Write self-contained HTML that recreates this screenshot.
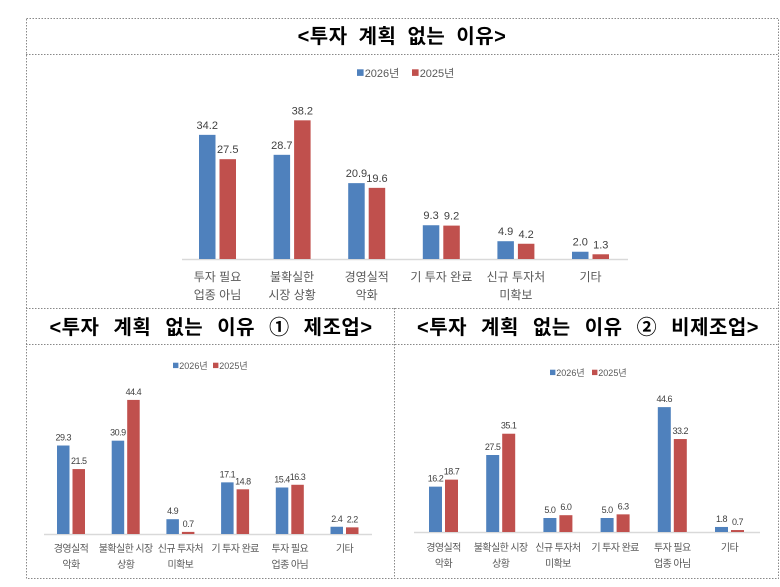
<!DOCTYPE html>
<html><head><meta charset="utf-8">
<style>
body{margin:0;background:#fff;width:780px;height:587px;overflow:hidden;font-family:"Liberation Sans","Noto Sans CJK KR",sans-serif}
svg{display:block}
</style></head>
<body>
<svg id="c" width="780" height="587" xmlns="http://www.w3.org/2000/svg">
<g stroke="#888" stroke-width="1" stroke-dasharray="1.5,1.5" fill="none">
<rect x="26.5" y="18.5" width="752" height="560"/>
<line x1="26" y1="54.5" x2="779" y2="54.5"/>
<line x1="26" y1="308.5" x2="779" y2="308.5"/>
<line x1="26" y1="344.5" x2="779" y2="344.5"/>
<line x1="394.5" y1="308" x2="394.5" y2="578"/>
</g>
<text x="402" y="43" text-anchor="middle" font-size="20" font-weight="bold" word-spacing="5" letter-spacing="0.5" fill="#000">&lt;투자 계획 없는 이유&gt;</text>
<text x="211" y="334" text-anchor="middle" font-size="20" font-weight="bold" word-spacing="8" letter-spacing="0.5" fill="#000">&lt;투자 계획 없는 이유 ① 제조업&gt;</text>
<text x="588" y="334" text-anchor="middle" font-size="20" font-weight="bold" word-spacing="8" letter-spacing="0.5" fill="#000">&lt;투자 계획 없는 이유 ② 비제조업&gt;</text>
</svg>
<script>
const seriesNames=["2026년","2025년"];
const topCats=[["투자 필요","업종 아님"],["불확실한","시장 상황"],["경영실적","악화"],["기 투자 완료"],["신규 투자처","미확보"],["기타"]];
const top2026=[34.2,28.7,20.9,9.3,4.9,2.0];
const top2025=[27.5,38.2,19.6,9.2,4.2,1.3];
const mfgCats=[["경영실적","악화"],["불확실한 시장","상황"],["신규 투자처","미확보"],["기 투자 완료"],["투자 필요","업종 아님"],["기타"]];
const mfg2026=[29.3,30.9,4.9,17.1,15.4,2.4];
const mfg2025=[21.5,44.4,0.7,14.8,16.3,2.2];
const nonCats=[["경영실적","악화"],["불확실한 시장","상황"],["신규 투자처","미확보"],["기 투자 완료"],["투자 필요","업종 아님"],["기타"]];
const non2026=[16.2,27.5,5.0,5.0,44.6,1.8];
const non2025=[18.7,35.1,6.0,6.3,33.2,0.7];

const NS="http://www.w3.org/2000/svg";
const svg=document.getElementById('c');
const colors=["#4f81bd","#c0504d"];
function mk(tag,attrs,parent){const e=document.createElementNS(NS,tag);for(const k in attrs)e.setAttribute(k,attrs[k]);(parent||svg).appendChild(e);return e;}

function chart(o){
  const g=mk('g',{});
  
  
  const y=v=>o.base-v*o.scale;
  const x=i=>o.x0+i*o.step;
  const ax=mk('line',{x1:o.axL,x2:o.axR,y1:o.base+0.5,y2:o.base+0.5,stroke:"#d9d9d9","stroke-width":1.5},g);
  
  
  [o.s1,o.s2].forEach((s,si)=>{
    s.forEach((v,i)=>{
      const bx=x(i)+si*(o.bw+o.gap);
      const r=mk('rect',{x:bx,y:y(v),width:o.bw,height:v*o.scale,fill:colors[si]},g);
      
      
      const t=mk('text',{x:bx+o.bw/2,y:y(v)-o.lo,"text-anchor":"middle","font-size":o.vf,fill:"#404040","letter-spacing":o.vls||0},g);
      t.textContent=v.toFixed(1);
      
      
    });
  });
  o.cats.forEach((c,i)=>{
    const cx=x(i)+o.bw+o.gap/2;
    c.forEach((line,li)=>{
      const t=mk('text',{x:cx,y:o.ly+li*o.lh,"text-anchor":"middle","font-size":o.cf,fill:"#595959","letter-spacing":o.cls||0},g);
      t.textContent=line;
      
      
    });
  });
  const lg=mk('g',{},g);
  
  
  let lx=o.legX;
  seriesNames.forEach((n,i)=>{
    mk('rect',{x:lx,y:o.legY-o.lf*0.7,width:o.lf*0.6,height:o.lf*0.6,fill:colors[i]},lg);
    const t=mk('text',{x:lx+o.lf*0.7,y:o.legY,"font-size":o.lf,fill:"#595959"},lg);
    t.textContent=n;
    
    
    lx+=o.legStep;
  });
}
chart({name:'chart-overall',cats:topCats,s1:top2026,s2:top2025,base:259,scale:3.63,x0:199,step:74.6,bw:16.5,gap:4,axL:182,axR:628,vf:11,lo:6,cf:12,ly:281,lh:18,legX:357,legY:77,lf:11,legStep:55});
chart({name:'chart-manufacturing',cats:mfgCats,s1:mfg2026,s2:mfg2025,base:534,scale:3.02,x0:57,step:54.7,bw:12.5,gap:3,axL:44,axR:372,vf:9,lo:5,vls:-0.5,cf:10,cls:-0.6,ly:552,lh:16,legX:173,legY:369,lf:9,legStep:40});
chart({name:'chart-non-manufacturing',cats:nonCats,s1:non2026,s2:non2025,base:532,scale:2.80,x0:429,step:57.2,bw:13,gap:3,axL:414,axR:760,vf:9,lo:5,vls:-0.5,cf:10,cls:-0.6,ly:551,lh:16,legX:550,legY:376,lf:9,legStep:42});
</script>
</body></html>
